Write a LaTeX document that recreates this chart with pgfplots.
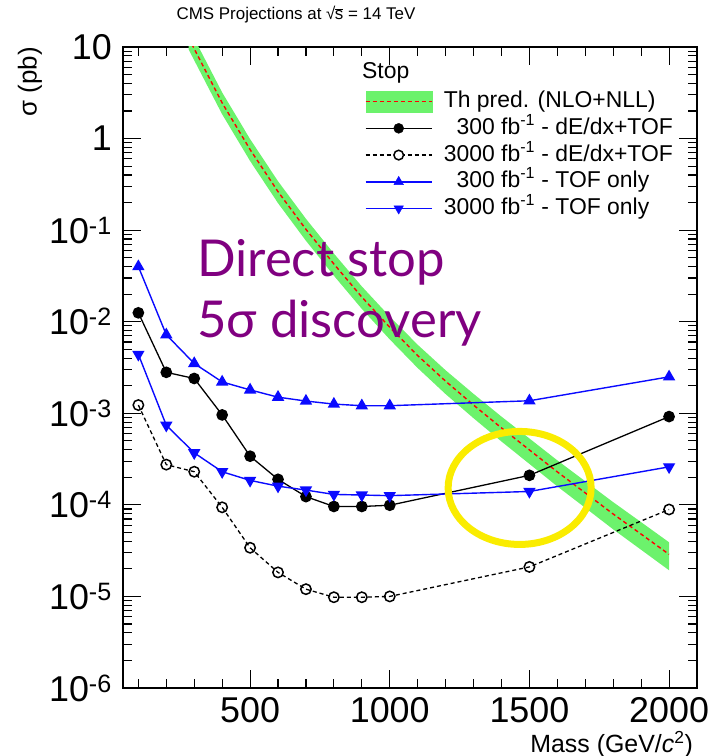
\documentclass[border=0pt]{standalone}
\usepackage{fontspec}
\setmainfont{Liberation Sans}
\newfontfamily\latofont{Lato}
\usepackage{pgfplots}
\usepackage{pgfplotstable}
\pgfplotsset{compat=1.18}
\usepgfplotslibrary{fillbetween}
\usetikzlibrary{calc}
\definecolor{bandgreen}{RGB}{108,242,108}
\definecolor{rootblue}{RGB}{10,10,255}
\definecolor{annpurple}{RGB}{128,0,128}
\definecolor{annyellow}{RGB}{250,236,0}

\pgfplotstableread{
m sig up lo
280 12.6 16.4 9.4
300 9.55 12.4 7.15
400 2.45 3.19 1.84
500 0.759 0.987 0.569
600 0.263 0.342 0.197
700 0.102 0.133 0.0765
800 0.0427 0.0555 0.0318
900 0.0186 0.0243 0.0138
1000 0.0087 0.0114 0.00641
1100 0.00427 0.00560 0.00312
1200 0.00224 0.00295 0.00162
1300 0.00123 0.00163 0.000883
1400 0.000692 0.000920 0.000492
1500 0.000398 0.000531 0.000280
1600 0.000229 0.000306 0.000159
1700 0.000135 0.000181 0.0000928
1800 0.0000794 0.000107 0.0000540
1900 0.0000479 0.0000647 0.0000323
2000 0.0000288 0.0000390 0.0000193
}\thtab

\pgfplotstableread{
m s
100 0.0125
200 0.0028
300 0.0024
400 0.00096
500 0.00034
600 0.00019
700 0.000123
800 0.000096
900 0.000096
1000 0.000099
1500 0.00021
2000 0.00092
}\blackfilled

\pgfplotstableread{
m s
100 0.00123
200 0.000275
300 0.00023
400 0.000094
500 0.000034
600 0.0000183
700 0.000012
800 0.0000098
900 0.0000098
1000 0.0000100
1500 0.000021
2000 0.000089
}\blackopen

\pgfplotstableread{
m s
100 0.040
200 0.0072
300 0.0035
400 0.0022
500 0.0018
600 0.0015
700 0.00136
800 0.00126
900 0.00121
1000 0.00121
1500 0.00137
2000 0.0025
}\blueup

\pgfplotstableread{
m s
100 0.0044
200 0.00074
300 0.00037
400 0.00023
500 0.000185
600 0.00016
700 0.000145
800 0.00013
900 0.000128
1000 0.000126
1500 0.00014
2000 0.00026
}\bluedown

\begin{document}
\begin{tikzpicture}
\begin{axis}[
  scale only axis, width=574bp, height=641bp,
  xmin=45, xmax=2100, ymin=1e-6, ymax=10, ymode=log,
  xtick={500,1000,1500,2000}, xticklabels={500,1000,1500,2000},
  minor xtick={100,200,...,1900},
  ytick={1e-6,1e-5,1e-4,1e-3,1e-2,1e-1,1,10},
  yticklabels={10\textsuperscript{-6},10\textsuperscript{-5},10\textsuperscript{-4},10\textsuperscript{-3},10\textsuperscript{-2},10\textsuperscript{-1},1,10},
  major tick length=18bp, minor tick length=9bp,
  every tick/.style={black, line width=1.1bp},
  axis line style={line width=1.3bp},
  xticklabel style={font=\fontsize{36}{36}\selectfont, anchor=base, inner sep=0pt, yshift=-34bp},
  yticklabel style={font=\fontsize{36}{36}\selectfont, anchor=east, inner sep=0pt, xshift=-11bp},
  legend style={at={(rel axis cs:0.4216,0.932)}, anchor=north west, draw=none, fill=none,
    inner sep=0pt, outer sep=0pt, font=\fontsize{23}{23}\selectfont, row sep=4.75bp,
    nodes={inner sep=0pt, text height=17bp, text depth=5bp}},
  legend cell align=left,
]
% theory band
\addplot[name path=thup, draw=none, forget plot] table[x=m, y=up] {\thtab};
\addplot[name path=thlo, draw=none, forget plot] table[x=m, y=lo] {\thtab};
\addplot[fill=bandgreen, draw=none, forget plot] fill between[of=thup and thlo];
\addplot[red, line width=1.4bp, dash pattern=on 4bp off 3bp, forget plot] table[x=m, y=sig] {\thtab};

\addplot[black, line width=1.3bp, dash pattern=on 4bp off 3bp, mark=o, mark size=5.2bp,
  mark options={solid, line width=1.5bp}, forget plot] table[x=m, y=s] {\blackopen};
\addplot[black, line width=1.3bp, mark=*, mark size=5.2bp, forget plot] table[x=m, y=s] {\blackfilled};
\addplot[rootblue, line width=1.4bp, mark=triangle*, mark size=5.8bp, forget plot] table[x=m, y=s] {\blueup};
\addplot[rootblue, line width=1.4bp, mark=triangle*, mark size=5.8bp, mark options={rotate=180}, forget plot] table[x=m, y=s] {\bluedown};

% legend
\addlegendimage{legend image code/.code={\fill[bandgreen] (0bp,-10.5bp) rectangle (66bp,10.5bp); \draw[red, line width=1.3bp, dash pattern=on 4bp off 3bp] (0bp,0bp) -- (66bp,0bp); \path (78bp,0bp);}}
\addlegendentry{Th pred. (NLO+NLL)}
\addlegendimage{legend image code/.code={\draw[black, line width=1.3bp] (0bp,0bp) -- (66bp,0bp); \fill[black] (33bp,0bp) circle (5bp); \path (78bp,0bp);}}
\addlegendentry{\phantom{0}300 fb\textsuperscript{-1} - dE/dx+TOF}
\addlegendimage{legend image code/.code={\draw[black, line width=1.3bp, dash pattern=on 4bp off 3bp] (0bp,0bp) -- (66bp,0bp); \draw[black, fill=white, line width=1.5bp] (33bp,0bp) circle (4.8bp); \path (78bp,0bp);}}
\addlegendentry{3000 fb\textsuperscript{-1} - dE/dx+TOF}
\addlegendimage{legend image code/.code={\draw[rootblue, line width=1.4bp] (0bp,0bp) -- (66bp,0bp); \draw[rootblue, mark=triangle*, mark size=5.5bp] plot coordinates {(33bp,0bp)}; \path (78bp,0bp);}}
\addlegendentry{\phantom{0}300 fb\textsuperscript{-1} - TOF only}
\addlegendimage{legend image code/.code={\draw[rootblue, line width=1.4bp] (0bp,0bp) -- (66bp,0bp); \draw[rootblue, mark=triangle*, mark size=5.5bp, mark options={rotate=180}] plot coordinates {(33bp,0bp)}; \path (78bp,0bp);}}
\addlegendentry{3000 fb\textsuperscript{-1} - TOF only}

\node[anchor=base west, font=\fontsize{23}{23}\selectfont, inner sep=0pt] at (rel axis cs:0.4164,0.9516) {Stop};

\node[anchor=base west, inner sep=0pt, text=annpurple, font=\latofont\fontsize{51}{60}\selectfont] at (axis cs:310,0.0308) {Direct stop};
\node[anchor=base west, inner sep=0pt, text=annpurple, font=\latofont\fontsize{51}{60}\selectfont] at (axis cs:310,0.0068) {5σ discovery};

\coordinate (bl) at (rel axis cs:0,0);
\coordinate (tr) at (rel axis cs:1,1);
\coordinate (tl) at (rel axis cs:0,1);
\coordinate (br) at (rel axis cs:1,0);
\coordinate (ell) at (axis cs:1465,1.53e-4);
\end{axis}
\draw[annyellow, line width=7bp] (ell) ellipse [x radius=71.5bp, y radius=56.5bp];
\node[anchor=base, font=\fontsize{17}{17}\selectfont, inner sep=0pt] at ($(tl)+(173bp,27bp)$) {CMS Projections at √\kern-0.6bp\rlap{\rule[10.6bp]{8bp}{0.8bp}}s = 14 TeV};
\node[rotate=90, anchor=east, font=\fontsize{26}{26}\selectfont, inner sep=0pt] at ($(tl)+(-93bp,0bp)$) {σ (pb)};
\node[anchor=base east, font=\fontsize{25}{25}\selectfont, inner sep=0pt] at ($(br)+(-4bp,-64bp)$) {Mass (GeV/\textit{c}\textsuperscript{2})};
\pgfresetboundingbox
\path[use as bounding box] ($(bl)+(-123bp,-68bp)$) rectangle ($(tr)+(16bp,47bp)$);
\end{tikzpicture}
\end{document}
